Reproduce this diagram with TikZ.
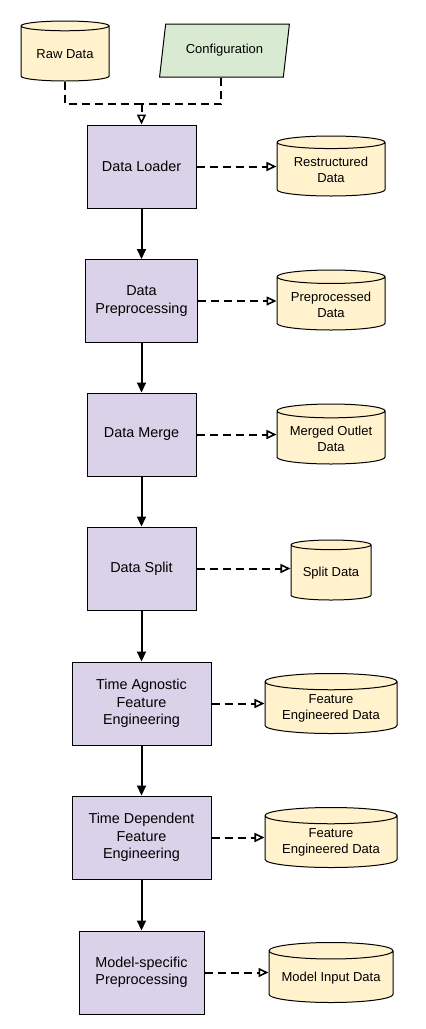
\documentclass[tikz,border=0pt]{standalone}
\usepackage{fontspec}
\setmainfont{Liberation Sans}
\usetikzlibrary{shapes.geometric,arrows.meta}
\definecolor{procfill}{HTML}{D9D2E9}
\definecolor{storefill}{HTML}{FFF2CC}
\definecolor{cfgfill}{HTML}{D9EAD3}
\tikzset{
	proc/.style={draw, fill=procfill, line width=1pt, minimum height=83pt, align=center, inner sep=2pt, font=\fontsize{14.4}{17.5}\selectfont},
	store/.style={cylinder, shape border rotate=90, aspect=0.16, anchor=shape center, draw, fill=storefill, line width=1pt, minimum height=60pt, align=center, inner sep=2pt, font=\fontsize{13}{16}\selectfont},
	cfg/.style={trapezium, trapezium left angle=77, trapezium right angle=103, trapezium stretches=true, draw, fill=cfgfill, line width=1pt, minimum width=131pt, minimum height=53pt, font=\fontsize{13}{16}\selectfont},
	flow/.style={line width=2pt, -{Triangle[length=10pt,width=9pt]}},
	saveflow/.style={line width=2pt, dash pattern=on 8pt off 5pt, -{Triangle[fill=white,length=10pt,width=9pt,line width=1.6pt,sep=0pt]}},
	savepart/.style={line width=2pt, dash pattern=on 8pt off 5pt}
}
\begin{document}
\begin{tikzpicture}[x=1pt, y=-1pt]
	\useasboundingbox (0,0) rectangle (426,1029);
	% entrées
	\node[store, minimum width=88pt] (raw) at (65,51) {Raw Data};
	\node[cfg] (config) at (224.5,50.5) {Configuration};
	\coordinate (join) at (141.5,104);
	% étapes du pipeline
	\node[proc, minimum width=109pt] (loader) at (141.5,166.5) {Data Loader};
	\node[proc, minimum width=112pt] (prep) at (141.5,301) {Data\\Preprocessing};
	\node[proc, minimum width=109pt] (merge) at (141.5,434.5) {Data Merge};
	\node[proc, minimum width=109pt] (split) at (141.5,568.5) {Data Split};
	\node[proc, minimum width=139pt] (agnostic) at (141.5,703.5) {Time Agnostic\\Feature\\Engineering};
	\node[proc, minimum width=139pt] (dependent) at (141.5,837.5) {Time Dependent\\Feature\\Engineering};
	\node[proc, minimum width=125pt] (model) at (141.5,972.5) {Model-specific\\Preprocessing};
	% données produites
	\node[store, minimum width=108pt] (restructured) at (331,166) {Restructured\\Data};
	\node[store, minimum width=108pt] (preprocessed) at (331,300) {Preprocessed\\Data};
	\node[store, minimum width=108pt] (merged) at (331,434) {Merged Outlet\\Data};
	\node[store, minimum width=80pt] (splitdata) at (331,570) {Split Data};
	\node[store, minimum width=132pt] (feat1) at (331,703.5) {Feature\\Engineered Data};
	\node[store, minimum width=132pt] (feat2) at (331,837.5) {Feature\\Engineered Data};
	\node[store, minimum width=124pt] (modelinput) at (331,972.5) {Model Input Data};
	% liaisons
	\draw[savepart] (raw.south) |- (join);
	\draw[savepart] (config.bottom side) |- (join);
	\draw[saveflow] (join) -- (loader.north);
	\draw[flow] (loader) -- (prep);
	\draw[flow] (prep) -- (merge);
	\draw[flow] (merge) -- (split);
	\draw[flow] (split) -- (agnostic);
	\draw[flow] (agnostic) -- (dependent);
	\draw[flow] (dependent) -- (model);
	\draw[saveflow] (loader.east) -- (loader.east -| restructured.west);
	\draw[saveflow] (prep.east) -- (prep.east -| preprocessed.west);
	\draw[saveflow] (merge.east) -- (merge.east -| merged.west);
	\draw[saveflow] (split.east) -- (split.east -| splitdata.west);
	\draw[saveflow] (agnostic.east) -- (agnostic.east -| feat1.west);
	\draw[saveflow] (dependent.east) -- (dependent.east -| feat2.west);
	\draw[saveflow] (model.east) -- (model.east -| modelinput.west);
\end{tikzpicture}
\end{document}
